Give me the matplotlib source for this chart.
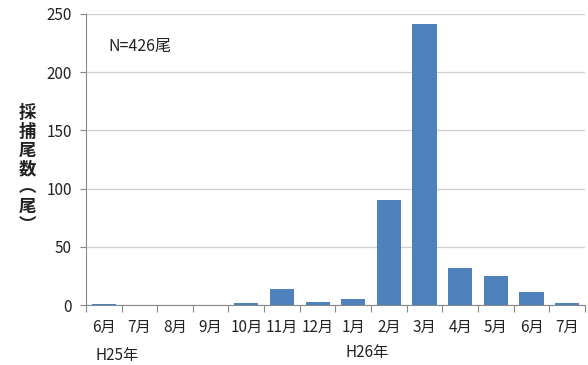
import matplotlib
matplotlib.use('Agg')
import matplotlib.pyplot as plt
import numpy as np

plt.rcParams['font.family'] = ['Noto Sans CJK JP', 'DejaVu Sans']

# 月別採捕尾数
months = ['6月', '7月', '8月', '9月', '10月', '11月', '12月',
          '1月', '2月', '3月', '4月', '5月', '6月', '7月']
counts = [1, 0, 0, 0, 2, 14, 3, 5, 90, 241, 32, 25, 11, 2]
yticks = [0, 50, 100, 150, 200, 250]

fig = plt.figure(figsize=(5.88, 3.65), dpi=100)
ax = fig.add_axes([0.146, 0.164, 0.849, 0.798])

x = np.arange(len(months))
ax.bar(x, counts, width=0.68, color='#4F81BD', zorder=3)

ax.set_xlim(-0.5, len(months) - 0.5)
ax.set_ylim(0, 250)
ax.set_yticks(yticks)
ax.yaxis.grid(True, color='#D0D0D0', linewidth=0.9, zorder=0)

# x軸: 区切り位置に目盛り、ラベルは中央
ax.set_xticks(np.arange(len(months) + 1) - 0.5)
ax.set_xticklabels([])
ax.set_xticks(x, minor=True)
ax.set_xticklabels(months, minor=True, fontsize=11, color='#222222')
ax.tick_params(axis='x', which='minor', length=0, pad=10)
ax.tick_params(axis='x', which='major', length=5, color='#888888')
ax.tick_params(axis='y', length=4, color='#888888', labelsize=11,
               labelcolor='#222222', pad=6)

for s in ['top', 'right']:
    ax.spines[s].set_visible(False)
ax.spines['left'].set_color('#888888')
ax.spines['bottom'].set_color('#888888')

ax.text(0.045, 0.89, 'N=426尾', transform=ax.transAxes, fontsize=11.5,
        color='#222222', va='center')

# 縦書きの軸ラベル
fig.text(27 / 588, 1 - 169 / 365, '採\n捕\n尾\n数\n︵\n尾\n︶', fontsize=12.5,
         fontweight='bold', ha='center', va='center', linespacing=1.05,
         color='#222222')

fig.text(0.163, 0.027, 'H25年', fontsize=11, color='#222222', va='center')
fig.text(0.588, 0.035, 'H26年', fontsize=11, color='#222222', va='center')

fig.savefig('out.png', dpi=100)
